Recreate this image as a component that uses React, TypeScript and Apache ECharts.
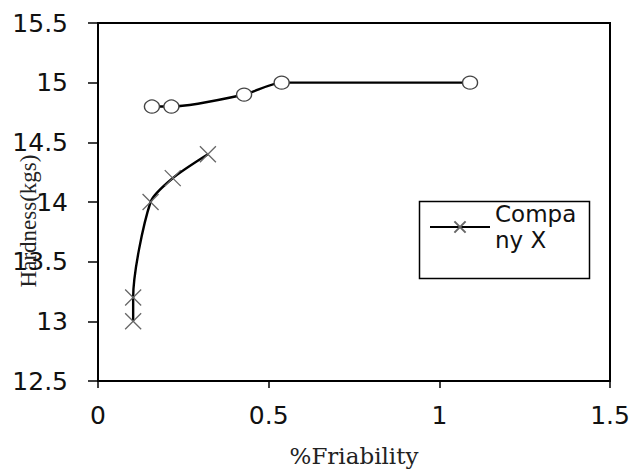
import React, { useEffect, useRef } from "react";
import * as echarts from "echarts";

// Company X (crosses)
const companyXFriability = [0.103, 0.103, 0.154, 0.219, 0.322];
const companyXHardness = [13.0, 13.2, 14.0, 14.2, 14.4];

// Second product (open circles)
const otherFriability = [0.158, 0.215, 0.428, 0.538, 1.09];
const otherHardness = [14.8, 14.8, 14.9, 15.0, 15.0];

const seriesNames = ["Company X", "Other"];
const legendLines = ["Compa", "ny X"];
const xAxisTitle = "%Friability";
const yAxisTitle = "Hardness(kgs)";

const X_MIN = 0;
const X_MAX = 1.5;
const X_STEP = 0.5;
const Y_MIN = 12.5;
const Y_MAX = 15.5;
const Y_STEP = 0.5;

export default function App() {
  const ref = useRef<HTMLDivElement>(null);

  useEffect(() => {
    if (!ref.current) return;
    const chart = echarts.init(ref.current, null, { renderer: "svg" });

    const xData = companyXFriability.map((x, i) => [x, companyXHardness[i]]);
    const oData = otherFriability.map((x, i) => [x, otherHardness[i]]);

    const tickFont = "DejaVu Sans";

    chart.setOption({
      animation: false,
      backgroundColor: "#ffffff",
      grid: {
        left: 98,
        top: 23,
        right: 24,
        bottom: 90,
        show: true,
        borderColor: "#000",
        borderWidth: 2,
        backgroundColor: "transparent",
      },
      xAxis: {
        type: "value",
        min: X_MIN,
        max: X_MAX,
        interval: X_STEP,
        name: xAxisTitle,
        nameLocation: "middle",
        nameGap: 63,
        nameTextStyle: {
          fontFamily: "DejaVu Serif",
          fontSize: 23,
          color: "#222",
        },
        axisLine: { show: true, onZero: false, lineStyle: { color: "#000", width: 2 } },
        axisTick: { show: true, inside: false, length: 7, lineStyle: { color: "#000", width: 1.5 } },
        axisLabel: {
          margin: 22,
          fontFamily: tickFont,
          fontSize: 25,
          color: "#111",
          showMinLabel: true,
          showMaxLabel: true,
        },
        splitLine: { show: false },
      },
      yAxis: {
        type: "value",
        min: Y_MIN,
        max: Y_MAX,
        interval: Y_STEP,
        axisLine: { show: true, onZero: false, lineStyle: { color: "#000", width: 2 } },
        axisTick: { show: true, inside: false, length: 10, lineStyle: { color: "#000", width: 1.5 } },
        axisLabel: {
          margin: 30,
          fontFamily: tickFont,
          fontSize: 25,
          color: "#111",
          showMinLabel: true,
          showMaxLabel: true,
        },
        splitLine: { show: false },
      },
      legend: {
        data: [seriesNames[0]],
        left: 429,
        top: 188,
        padding: 0,
        itemWidth: 60,
        itemHeight: 14,
        formatter: () => legendLines.join("\n"),
        textStyle: {
          fontFamily: tickFont,
          fontSize: 23,
          lineHeight: 26,
          color: "#111",
          padding: [26, 0, 0, 0],
        },
      },
      graphic: [
        {
          type: "rect",
          left: 417,
          top: 199,
          shape: { width: 170, height: 77 },
          style: { fill: "none", stroke: "#000", lineWidth: 1.5 },
          z: 0,
        },
        {
          type: "text",
          x: 28,
          y: 221,
          rotation: Math.PI / 2,
          z: -1,
          style: {
            text: yAxisTitle,
            font: "23px 'Liberation Serif'",
            fill: "#222",
            align: "center",
            verticalAlign: "middle",
          },
        },
      ],
      series: [
        {
          name: seriesNames[0],
          type: "line",
          data: xData,
          smooth: 0.25,
          symbol: "path://M0,0L10,10M10,0L0,10",
          symbolSize: 16,
          itemStyle: { color: "rgba(0,0,0,0)", borderColor: "#666", borderWidth: 1.3 },
          lineStyle: { color: "#000", width: 2.4 },
          z: 3,
        },
        {
          name: seriesNames[1],
          type: "line",
          data: oData,
          smooth: 0.25,
          symbol: "circle",
          symbolSize: [15, 13],
          itemStyle: { color: "#fff", borderColor: "#444", borderWidth: 1.3 },
          lineStyle: { color: "#000", width: 2.4 },
          z: 3,
        },
      ],
    });

    return () => chart.dispose();
  }, []);

  return (
    <div
      ref={ref}
      style={{ position: "fixed", left: 0, top: 0, width: 634, height: 472, background: "#fff" }}
    />
  );
}
